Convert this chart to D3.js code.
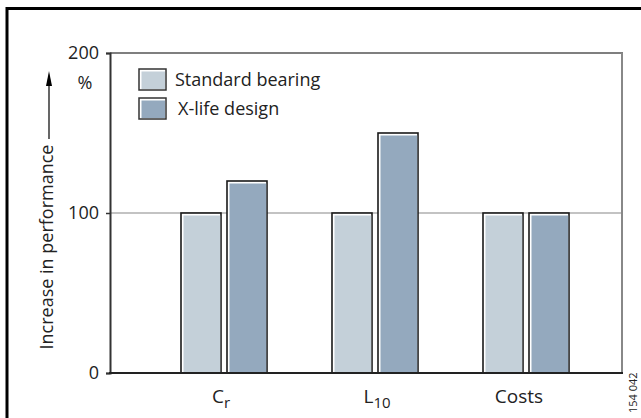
<!DOCTYPE html>
<html><head><meta charset="utf-8">
<script src="https://cdn.jsdelivr.net/npm/d3@7"></script>
<style>body{margin:0;background:#fff}svg{display:block}text{font-family:"Open Sans",sans-serif;fill:#222}</style>
</head><body>
<script>
const categories = ["Cr", "L10", "Costs"];
const catMain = ["C", "L", "Costs"];
const catSub = ["r", "10", ""];
const seriesNames = ["Standard bearing", "X-life design"];
const standardValues = [100, 100, 100];
const xlifeValues = [120, 150, 100];
const yTicks = [0, 100, 200];
const colors = ["#c4d0d9", "#94a9be"];

const W = 641, H = 418;
const svg = d3.select("body").append("svg").attr("width", W).attr("height", H);

// outer frame
svg.append("path").attr("d", `M7,${H+5} V8.5 H${W+5}`).attr("fill", "none").attr("stroke", "#000").attr("stroke-width", 3);

const x0 = 110, x1 = 622;
const y = d3.scaleLinear().domain([0, 200]).range([373, 53]);
const xc = d3.scalePoint().domain(categories).range([224, 526]);
const xs = d3.scaleBand().domain(seriesNames).range([-43, 43]).paddingInner(2 - 86 / 46);

// reference line at 100
svg.append("line").attr("x1", x0).attr("x2", x1).attr("y1", y(100)).attr("y2", y(100))
  .attr("stroke", "#c3c3c3").attr("stroke-width", 2);

// top and right frame of plot
svg.append("line").attr("x1", x0).attr("x2", x1 + 1).attr("y1", y(200)).attr("y2", y(200)).attr("stroke", "#555").attr("stroke-width", 1.5);
svg.append("line").attr("x1", x1).attr("x2", x1).attr("y1", y(200)).attr("y2", y(0)).attr("stroke", "#888").attr("stroke-width", 2);

// bars
const data = [];
categories.forEach((c, i) => {
  data.push({ c, s: seriesNames[0], v: standardValues[i], col: colors[0] });
  data.push({ c, s: seriesNames[1], v: xlifeValues[i], col: colors[1] });
});
const bw = xs.bandwidth();
const g = svg.append("g");
data.forEach(d => {
  const bx = xc(d.c) + xs(d.s), by = y(d.v), bh = y(0) - y(d.v);
  g.append("rect").attr("x", bx).attr("y", by).attr("width", bw).attr("height", bh)
    .attr("fill", "#fff").attr("stroke", "#1a1a1a").attr("stroke-width", 1.6);
  g.append("rect").attr("x", bx + 2.5).attr("y", by + 2.5).attr("width", bw - 3.3).attr("height", bh - 2.5)
    .attr("fill", d.col);
});

// y axis
const yAxis = d3.axisLeft(y).tickValues(yTicks).tickSize(4).tickPadding(7);
const ya = svg.append("g").attr("transform", `translate(${x0},0)`).call(yAxis);
ya.attr("font-size", 18).attr("font-family", "Open Sans");
ya.select(".domain").attr("stroke", "#333").attr("stroke-width", 2);
ya.selectAll(".tick line").attr("stroke", "#333").attr("stroke-width", 1.5);
ya.selectAll(".tick text").style("font-size", "18px").attr("fill", "#222");

// x axis baseline
svg.append("line").attr("x1", x0 - 1).attr("x2", x1 + 1).attr("y1", y(0)).attr("y2", y(0)).attr("stroke", "#222").attr("stroke-width", 2);

// category labels
const labelShift = [-3, 2, -7];
categories.forEach((c, i) => {
  const t = svg.append("text").attr("x", xc(c) + labelShift[i]).attr("y", 403).attr("text-anchor", "middle").style("font-size", "19px");
  t.append("tspan").text(catMain[i]);
  if (catSub[i]) t.append("tspan").attr("dy", 5).style("font-size", "15px").text(catSub[i]);
});

// percent unit
svg.append("text").attr("x", 85).attr("y", 89).attr("text-anchor", "middle").style("font-size", "18px").text("%");

// y title with arrow
svg.append("text").attr("transform", "translate(53,247) rotate(-90)").attr("text-anchor", "middle").style("font-size", "18px").text("Increase in performance");
svg.append("line").attr("x1", 49).attr("x2", 49).attr("y1", 82).attr("y2", 139).attr("stroke", "#000").attr("stroke-width", 1.2);
svg.append("path").attr("d", "M49,71 L46,86 L52,86 Z").attr("fill", "#000");

// legend
seriesNames.forEach((s, i) => {
  const ly = 69 + i * 29;
  svg.append("rect").attr("x", 139).attr("y", ly).attr("width", 27).attr("height", 21).attr("fill", "#fff").attr("stroke", "#333").attr("stroke-width", 1.5);
  svg.append("rect").attr("x", 141.5).attr("y", ly + 2.5).attr("width", 23.5).attr("height", 17.5).attr("fill", colors[i]);
  svg.append("text").attr("x", 175 + i * 3).attr("y", ly + 17).style("font-size", "18px").text(s);
});

// figure id
svg.append("text").attr("transform", "translate(637,413) rotate(-90)").style("font-size", "11px").attr("fill", "#333").text("154 042");
</script>
</body></html>
